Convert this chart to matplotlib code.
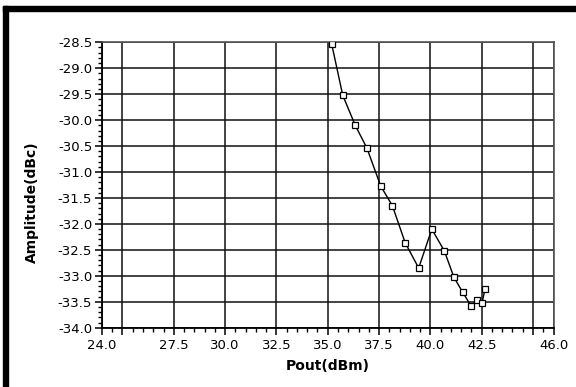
import matplotlib
matplotlib.use('Agg')
import matplotlib.pyplot as plt
from matplotlib.patches import Rectangle
from matplotlib.ticker import MultipleLocator

# data
pout = [35.19, 35.73, 36.34, 36.91, 37.58, 38.15, 38.77, 39.43, 40.07,
        40.68, 41.15, 41.58, 41.98, 42.29, 42.52, 42.66]
amplitude = [-28.53, -29.52, -30.10, -30.54, -31.27, -31.65, -32.36, -32.85,
             -32.10, -32.52, -33.03, -33.32, -33.58, -33.47, -33.52, -33.26]

x_ticks = [24.0, 25.0, 27.5, 30.0, 32.5, 35.0, 37.5, 40.0, 42.5, 45.0, 46.0]
x_labels = ['24.0', '', '27.5', '30.0', '32.5', '35.0', '37.5', '40.0', '42.5', '', '46.0']
y_ticks = [-34.0, -33.5, -33.0, -32.5, -32.0, -31.5, -31.0, -30.5, -30.0,
           -29.5, -29.0, -28.5]

fig = plt.figure(figsize=(5.76, 3.87), dpi=100)
ax = fig.add_axes([0.177, 0.1532, 0.784, 0.7375])

ax.plot(pout, amplitude, color='black', linewidth=1.0, marker='s', markersize=5,
        markerfacecolor='white', markeredgecolor='black', markeredgewidth=0.9, zorder=3)

ax.set_xlim(24, 46)
ax.set_ylim(-34, -28.5)
ax.set_xticks(x_ticks)
ax.set_xticklabels(x_labels)
ax.set_yticks(y_ticks)
ax.set_yticklabels(['%.1f' % v for v in y_ticks])
ax.xaxis.set_minor_locator(MultipleLocator(0.5))
ax.yaxis.set_minor_locator(MultipleLocator(0.1))

ax.grid(True, which='major', color='#111111', linewidth=1.1)
ax.tick_params(which='major', length=5, width=1.1, labelsize=9.5, pad=2, colors='black')
ax.tick_params(which='minor', length=3, width=1.0)
ax.tick_params(axis='x', which='major', pad=3)

for side in ['left', 'bottom']:
    ax.spines[side].set_color('black')
    ax.spines[side].set_linewidth(1.3)
for side in ['top', 'right']:
    ax.spines[side].set_color('#555555')
    ax.spines[side].set_linewidth(1.2)

ax.set_xlabel('Pout(dBm)', fontsize=10, fontweight='bold', labelpad=5)
ax.set_ylabel('Amplitude(dBc)', fontsize=10, fontweight='bold')
ax.yaxis.set_label_coords(-0.14, 0.44)

# thick black frame on top and left edge
fig.add_artist(Rectangle((3 / 576, 0), 5 / 576, 1 - 6 / 387, transform=fig.transFigure,
                         color='black', zorder=10))
fig.add_artist(Rectangle((3 / 576, 1 - 11 / 387), 1, 5 / 387, transform=fig.transFigure,
                         color='black', zorder=10))

fig.savefig('out.png', dpi=100)
